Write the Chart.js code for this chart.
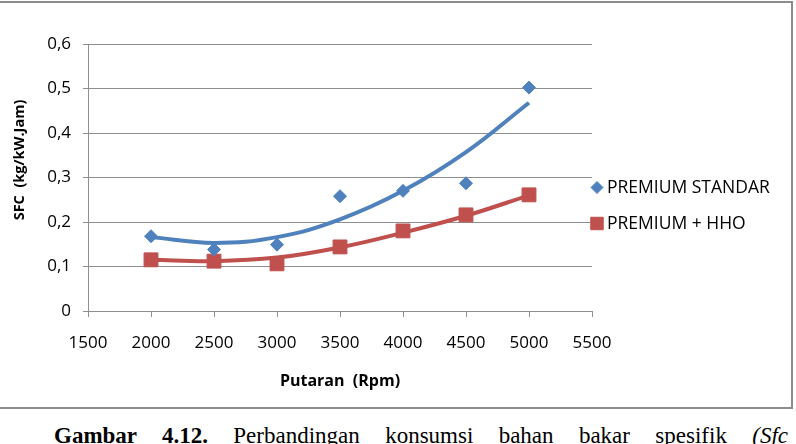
<!DOCTYPE html>
<html>
<head>
<meta charset="utf-8">
<script src="https://cdn.jsdelivr.net/npm/chart.js@4.4.1/dist/chart.umd.min.js"></script>
<style>
  html, body { margin: 0; padding: 0; background: #fff; width: 796px; height: 444px; overflow: hidden; }
  #frame { position: absolute; left: -2px; top: 1px; width: 795px; height: 408px; border: 2px solid #8c8c8c; box-sizing: border-box; }
  #frame canvas { display: block; }
  #caption { position: absolute; left: 54px; top: 424px; width: 734px; font: 23px 'Liberation Serif', serif; line-height: 23px; text-align: justify; text-align-last: justify; color: #000; }
</style>
</head>
<body>
<div id="frame"><canvas id="sfcChart"></canvas></div>
<div id="caption"><b>Gambar 4.12.</b> Perbandingan konsumsi bahan bakar spesifik <i>(Sfc</i></div>
<script>
const rpm = [2000, 2500, 3000, 3500, 4000, 4500, 5000];
const sfcStandar = [0.168, 0.138, 0.149, 0.258, 0.270, 0.287, 0.502];
const sfcHho = [0.115, 0.112, 0.106, 0.144, 0.180, 0.216, 0.261];
// trend curves at each rpm
const trendStandar = [0.166, 0.153, 0.166, 0.206, 0.270, 0.357, 0.468];
const trendHho = [0.115, 0.112, 0.120, 0.143, 0.176, 0.214, 0.260];
const seriesNames = ['PREMIUM STANDAR', 'PREMIUM + HHO'];
const xTitle = 'Putaran  (Rpm)';
const yTitle = 'SFC  (kg/kW.Jam)';

const blue = '#4F81BD';
const red = '#C0504D';
const gridColor = '#8e8e8e';
const fontFamily = '"Open Sans", sans-serif';

const toPoints = (ys) => rpm.map((x, i) => ({ x, y: ys[i] }));

// y title and legend sit where the picture has them, so draw them by hand
const sideText = {
  id: 'sideText',
  afterDraw(chart) {
    const ctx = chart.ctx;
    ctx.save();
    ctx.fillStyle = '#000';
    ctx.font = `bold 14.5px ${fontFamily}`;
    ctx.textAlign = 'center';
    ctx.textBaseline = 'middle';
    ctx.translate(20, 157);
    ctx.rotate(-Math.PI / 2);
    ctx.fillText(yTitle, 0, 0);
    ctx.restore();

    const marks = [
      { style: 'rectRot', radius: 6, color: blue, y: 184.5 },
      { style: 'rect', radius: 8.8, color: red, y: 220.5 },
    ];
    ctx.save();
    marks.forEach((m, i) => {
      ctx.fillStyle = m.color;
      ctx.strokeStyle = m.color;
      ctx.lineWidth = 1;
      Chart.helpers.drawPoint(ctx, { pointStyle: m.style, radius: m.radius, rotation: 0, borderWidth: 1 }, 597, m.y);
      ctx.fillStyle = '#000';
      ctx.font = `17.5px ${fontFamily}`;
      ctx.textAlign = 'left';
      ctx.textBaseline = 'middle';
      ctx.fillText(seriesNames[i], 607, m.y + 0.5);
    });
    ctx.restore();
  },
};

const ctx = document.getElementById('sfcChart').getContext('2d');
new Chart(ctx, {
  type: 'scatter',
  data: {
    datasets: [
      {
        label: seriesNames[0],
        data: toPoints(sfcStandar),
        pointStyle: 'rectRot',
        pointRadius: 6.5,
        backgroundColor: blue,
        borderColor: blue,
        borderWidth: 1,
        showLine: false,
      },
      {
        label: seriesNames[1],
        data: toPoints(sfcHho),
        pointStyle: 'rect',
        pointRadius: 9.8,
        backgroundColor: red,
        borderColor: red,
        borderWidth: 1,
        showLine: false,
      },
      {
        label: 'Trend standar',
        type: 'line',
        data: toPoints(trendStandar),
        borderColor: blue,
        borderWidth: 4,
        pointRadius: 0,
        tension: 0.4,
        fill: false,
      },
      {
        label: 'Trend HHO',
        type: 'line',
        data: toPoints(trendHho),
        borderColor: red,
        borderWidth: 4,
        pointRadius: 0,
        tension: 0.4,
        fill: false,
      },
    ],
  },
  options: {
    responsive: true,
    maintainAspectRatio: false,
    animation: false,
    layout: { padding: { top: 41, right: 199, left: 0, bottom: 0 } },
    plugins: { legend: { display: false }, tooltip: { enabled: false } },
    scales: {
      x: {
        type: 'linear',
        min: 1500,
        max: 5500,
        ticks: {
          stepSize: 500,
          padding: 16,
          color: '#000',
          font: { family: fontFamily, size: 17 },
          callback: (v) => String(v),
        },
        grid: { drawOnChartArea: false, drawTicks: true, tickLength: 6, color: gridColor },
        border: { color: gridColor },
        title: {
          display: true,
          text: xTitle,
          color: '#000',
          font: { family: fontFamily, size: 16, weight: 'bold' },
          padding: { top: 0, bottom: 16 },
        },
        afterFit: (s) => { s.height = 96; },
      },
      y: {
        min: 0,
        max: 0.6,
        ticks: {
          stepSize: 0.1,
          padding: 12,
          color: '#000',
          font: { family: fontFamily, size: 17 },
          callback: (v) => (v === 0 ? '0' : v.toFixed(1).replace('.', ',')),
        },
        grid: { color: gridColor, tickLength: 5 },
        border: { color: gridColor },
        afterFit: (s) => { s.width = 88; },
      },
    },
  },
  plugins: [sideText],
});
</script>
</body>
</html>
